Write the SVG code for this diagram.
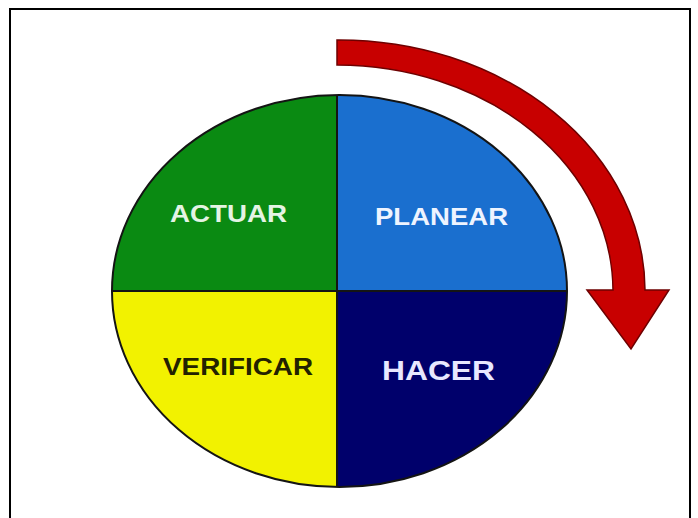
<svg xmlns="http://www.w3.org/2000/svg" width="698" height="518" viewBox="0 0 698 518">
  <style>
    .lbl { font-family: "Liberation Sans", Arial, sans-serif; font-weight: bold; text-anchor: middle; }
    .div { stroke: #141414; stroke-width: 2; fill: none; }
  </style>
  <defs>
    <clipPath id="circ">
      <ellipse cx="339.5" cy="291" rx="227.5" ry="196"/>
    </clipPath>
  </defs>
  <rect x="0" y="0" width="698" height="518" fill="#ffffff"/>
  <rect x="10" y="9" width="680" height="530" fill="none" stroke="#000" stroke-width="2"/>

  <g id="connectors">
    <path d="M337,40 A306,251 0 0 1 645,290 L669,290 L631,349 L587,290 L613,290 A276,226 0 0 0 337,65 Z" fill="#c80000" stroke="#6e0000" stroke-width="1.5" stroke-linejoin="miter"/>
  </g>

  <g id="actuar" clip-path="url(#circ)">
    <rect x="100" y="80" width="237" height="211" fill="#0a8a12"/>
  </g>
  <g id="planear" clip-path="url(#circ)">
    <rect x="337" y="80" width="243" height="211" fill="#1a6fcf"/>
  </g>
  <g id="verificar" clip-path="url(#circ)">
    <rect x="100" y="291" width="237" height="210" fill="#f2f200"/>
  </g>
  <g id="hacer" clip-path="url(#circ)">
    <rect x="337" y="291" width="243" height="210" fill="#00006b"/>
  </g>
  <g id="outline">
    <ellipse cx="339.5" cy="291" rx="227.5" ry="196" class="div"/>
    <line x1="337" y1="95" x2="337" y2="487" class="div"/>
    <line x1="112" y1="291" x2="567" y2="291" class="div"/>
  </g>

  <text class="lbl" x="228.5" y="222" font-size="23" fill="#e4f4e4" textLength="117" lengthAdjust="spacingAndGlyphs">ACTUAR</text>
  <text class="lbl" x="441.5" y="225" font-size="23" fill="#eef4ff" textLength="133" lengthAdjust="spacingAndGlyphs">PLANEAR</text>
  <text class="lbl" x="238" y="375" font-size="23" fill="#222200" textLength="150" lengthAdjust="spacingAndGlyphs">VERIFICAR</text>
  <text class="lbl" x="438.5" y="380" font-size="27" fill="#e8e8ff" textLength="113" lengthAdjust="spacingAndGlyphs">HACER</text>
</svg>
